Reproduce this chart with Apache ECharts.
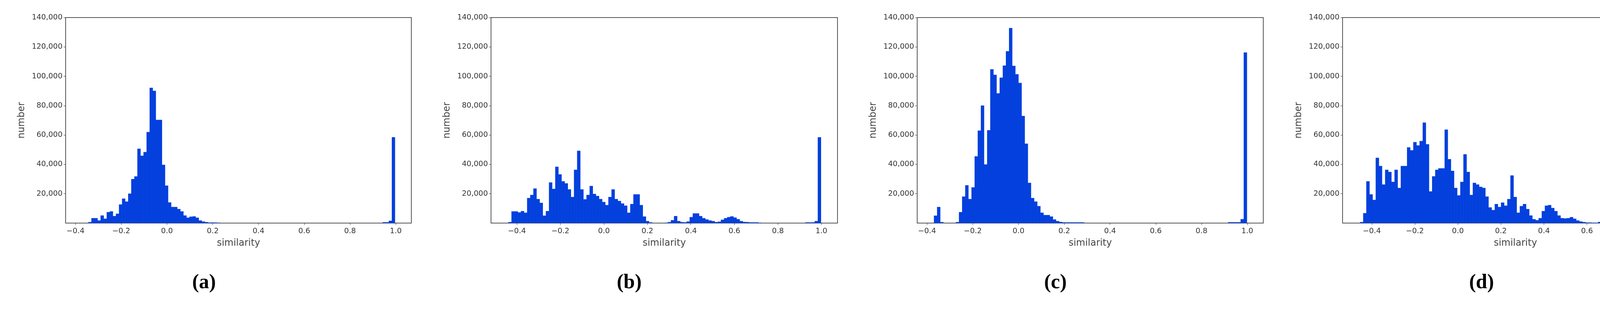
<!DOCTYPE html>
<html>
<head>
<meta charset="utf-8">
<script src="https://cdn.jsdelivr.net/npm/echarts@6/dist/echarts.min.js"></script>
<style>html,body{margin:0;padding:0;background:#fff}#main{width:4331px;height:800px}</style>
</head>
<body>
<div id="main"></div>
<script>
// histogram counts, 100 bins per panel
var countsA = [700,3400,3400,1800,5200,3000,7500,8000,4800,6400,
  12700,16700,14700,20100,30000,31800,50700,45900,48400,62000,
  92200,90100,70300,70300,39700,25600,14100,11000,11000,9600,
  8000,5200,3700,4400,4600,3700,1800,1100,700,400,
  400,400,300,0,0,0,0,0,0,0, 0,0,0,0,0,0,0,0,0,0,
  0,0,0,0,0,0,0,0,0,0, 0,0,0,0,0,0,0,0,0,0,
  0,0,0,0,0,0,0,0,0,0, 0,0,0,0,0,0,600,600,1600,58500];
var countsB = [700,8000,8000,7300,8200,7100,17100,19200,23600,16400,
  13800,5100,8200,27700,23300,38400,33200,28500,27100,23000,
  17800,36300,49300,23000,16200,19200,25300,19900,18500,16400,
  14400,12300,17800,23000,16400,15100,13400,11900,7100,13000,
  19600,19600,12300,4500,1400,500,0,0,0,0,
  300,700,2000,4800,1400,700,500,1100,4100,6600,
  6600,4800,3400,2500,1800,1400,700,1000,2300,3400,
  4100,4600,3800,2700,1400,800,700,500,500,500,
  300,0,0,0,0,0,0,0,0,0, 0,0,0,0,0,500,500,500,1400,58500];
var countsC = [5100,11000,700,0,0,0,0,700,7500,18100,
  25800,16400,24400,45500,63000,80100,40000,63300,104800,101000,
  88400,99100,107300,117100,132900,107100,101400,95500,73000,54100,
  27400,17100,14700,11600,7100,5500,5500,4500,2500,1400,
  800,500,500,500,500,500,500,500,0,0, 0,0,0,0,0,0,0,0,0,0,
  0,0,0,0,0,0,0,0,0,0, 0,0,0,0,0,0,0,0,0,0,
  0,0,0,0,0,0,0,0,0,0, 0,0,0,0,600,600,600,600,2700,116200];
var countsD = [700,6800,28500,19600,15800,44500,38900,26300,36300,34900,
  28100,36300,24000,38900,38900,51600,49600,55200,52900,55900,
  68500,53700,21600,31900,36300,37300,37300,63700,43600,35600,
  24000,18900,28100,46900,34900,19200,27400,26300,24700,24000,
  18100,10700,8900,13000,11000,14000,11900,16400,32500,17800,
  7100,11600,13000,9600,5200,2700,2000,3400,8200,11900,
  12300,10300,8200,5200,3400,3200,3400,4100,3000,1800,
  1100,700,400,400,300,300,800,0,0,0,
  0,0,0,0,500,300,300,3000,3000,3700,
  5500,1600,500,300,300,300,300,800,1800,117500];

// first bin edge and bin width of each panel
var binStart = [-0.344, -0.4395, -0.370, -0.455];
var binWidth = [0.0134, 0.01437, 0.01368, 0.01456];
// x range of each plot frame
var xMin = [-0.443, -0.519, -0.443, -0.536];
var xMax = [1.068, 1.074, 1.070, 1.071];
var xTicks = [-0.4, -0.2, 0.0, 0.2, 0.4, 0.6, 0.8, 1.0];
var captions = ['a', 'b', 'c', 'd'];

var gridLeft = [168, 1257, 2348, 3437];
var gridWidth = [885, 887, 886, 885];
var captionX = [532, 1619, 2713, 3801];

var allCounts = [countsA, countsB, countsC, countsD];
var blue = '#0340dd';
var axisColor = '#555';
var labelFont = { fontFamily: 'DejaVu Sans', fontSize: 19, color: '#333' };

var grids = [], xAxes = [], yAxes = [], series = [], graphics = [];

for (var p = 0; p < 4; p++) {
  grids.push({ left: gridLeft[p], width: gridWidth[p], top: 45, height: 527,
    containLabel: false, outerBoundsMode: 'none',
    show: true, borderColor: axisColor, borderWidth: 2, backgroundColor: '#fff' });

  xAxes.push({
    gridIndex: p, type: 'value', min: xMin[p], max: xMax[p],
    name: 'similarity', nameLocation: 'middle', nameGap: 40,
    nameTextStyle: { fontFamily: 'DejaVu Sans', fontSize: 24, color: '#444' },
    axisLine: { show: true, onZero: false, lineStyle: { color: axisColor, width: 2 } },
    axisTick: { show: true, customValues: xTicks, length: 5, lineStyle: { color: '#333' } },
    axisLabel: Object.assign({ customValues: xTicks, margin: 12,
      formatter: function (v) { return (v < 0 ? '\u2212' : '') + Math.abs(v).toFixed(1); } }, labelFont),
    splitLine: { show: false }
  });

  yAxes.push({
    gridIndex: p, type: 'value', min: 0, max: 140000, interval: 20000,
    name: 'number', nameLocation: 'middle', nameGap: 100,
    nameTextStyle: { fontFamily: 'DejaVu Sans', fontSize: 24, color: '#444' },
    axisLine: { show: true, onZero: false, lineStyle: { color: axisColor, width: 2 } },
    axisTick: { show: true, length: 5, lineStyle: { color: '#333' } },
    axisLabel: Object.assign({ showMinLabel: false, margin: 8,
      formatter: function (v) { return v.toLocaleString('en-US'); } }, labelFont),
    splitLine: { show: false }
  });

  var rows = allCounts[p].map(function (c, i) {
    var x0 = binStart[p] + i * binWidth[p];
    return [x0, x0 + binWidth[p], c];
  });

  series.push({
    type: 'custom', xAxisIndex: p, yAxisIndex: p,
    encode: { x: [0, 1], y: 2 },
    data: rows,
    renderItem: function (params, api) {
      var a = api.coord([api.value(0), api.value(2)]);
      var b = api.coord([api.value(1), 0]);
      return { type: 'rect',
        shape: { x: a[0], y: a[1], width: b[0] - a[0] + 0.6, height: b[1] - a[1] },
        style: { fill: blue } };
    }
  });

  graphics.push({ type: 'text', left: captionX[p] - 40, top: 700,
    style: { text: '(' + captions[p] + ')', font: 'bold 52px "Liberation Serif"', fill: '#000' } });
}

var chart = echarts.init(document.getElementById('main'));
chart.setOption({
  animation: false,
  grid: grids, xAxis: xAxes, yAxis: yAxes, series: series, graphic: graphics
});
</script>
</body>
</html>
